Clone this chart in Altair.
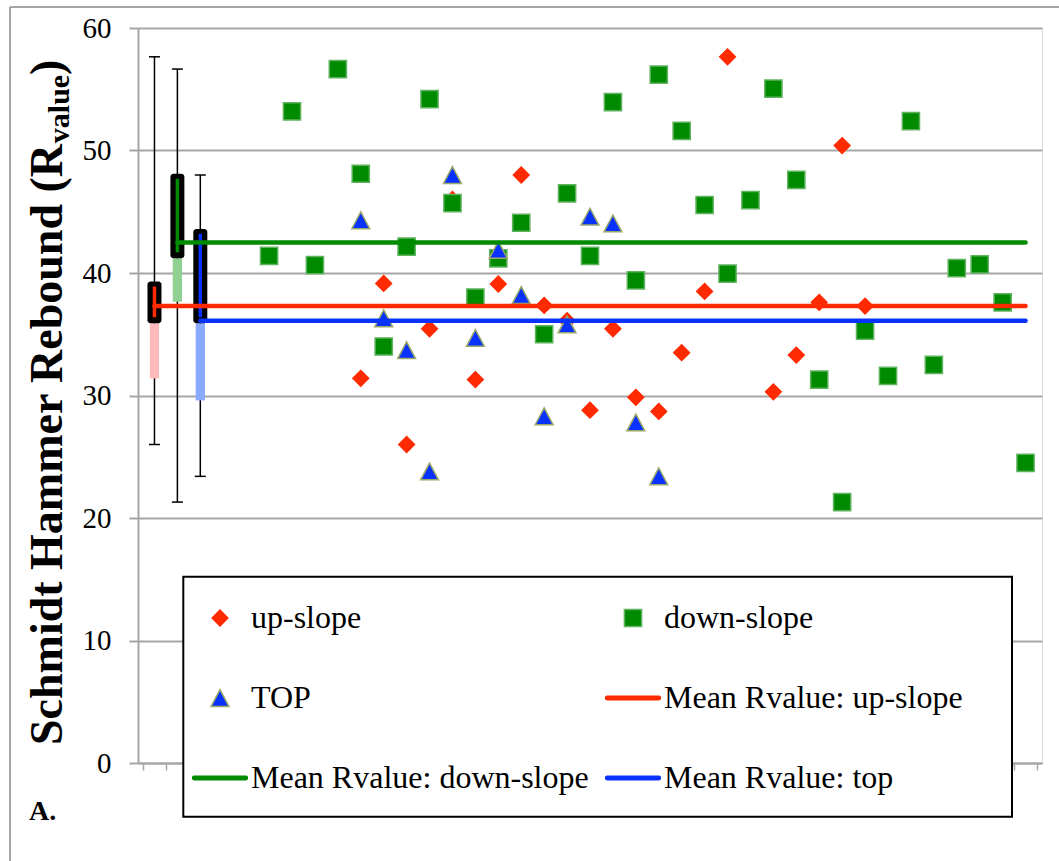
import altair as alt
import pandas as pd

# ---------------- data ----------------
series_names = ["up-slope", "down-slope", "TOP",
                "Mean Rvalue: up-slope", "Mean Rvalue: down-slope", "Mean Rvalue: top"]

# category index (0-based, 39 categories) and R-values of the scatter series
up_cat = [9, 10, 11, 12, 13, 14, 15, 16, 17, 18, 19, 20, 21, 22, 23, 24, 25, 27, 28, 29, 30, 31]
up_val = [31.4, 39.15, 26.0, 35.45, 46.0, 31.3, 39.1, 48.0, 37.35, 36.1, 28.8, 35.45,
          29.85, 28.7, 33.5, 38.5, 57.65, 30.3, 33.3, 37.6, 50.4, 37.3]

down_cat = list(range(5, 39))
down_val = [41.4, 53.2, 40.65, 56.65, 48.1, 34.0, 42.15, 54.2, 45.7, 38.0, 41.2, 44.1,
            35.0, 46.5, 41.4, 53.95, 39.4, 56.2, 51.6, 45.55, 39.95, 45.95, 55.05, 47.6,
            31.3, 21.3, 35.3, 31.6, 52.4, 32.5, 40.4, 40.7, 37.6, 24.5]

top_cat = list(range(9, 23))
top_val = [44.3, 36.3, 33.7, 23.8, 48.0, 34.7, 41.9, 38.2, 28.3, 35.8, 44.6, 44.05, 27.8, 23.4]

# summary boxes at the left (one per series)
box_cat = [0, 1, 2]
box_min = [26.0, 21.3, 23.4]
box_max = [57.65, 56.65, 48.0]
box_low = [31.4, 37.65, 29.6]
box_mid = [35.9, 41.2, 35.9]
box_high = [39.3, 48.1, 43.6]
mean_val = [37.3, 42.5, 36.1]
mean_end_cat = 38

n_cats = 39
y_ticks = [0, 10, 20, 30, 40, 50, 60]

# ---------------- styles ----------------
RED, GREEN, BLUE = "#ff2a00", "#008a00", "#0a32ff"
PALE = ["#ffbbbb", "#90d090", "#88aaff"]
MAIN = [RED, GREEN, BLUE]
GRID = "#a6a6a6"
SERIF = "Liberation Serif"

fill_colors = [RED, GREEN, BLUE, RED, GREEN, BLUE]
stroke_colors = [RED, "#5fb35f", "#9aa86a", RED, GREEN, BLUE]
line_path = ("M-0.92,-0.06L0.92,-0.06A0.06,0.06,0,0,1,0.92,0.06"
             "L-0.92,0.06A0.06,0.06,0,0,1,-0.92,-0.06Z")
shape_paths = [
    "M-0.28,0L0,-0.28L0.28,0L0,0.28Z",
    "M-0.307,-0.307L0.307,-0.307L0.307,0.307L-0.307,0.307Z",
    "M0,-0.3L0.318,0.3L-0.318,0.3Z",
    line_path, line_path, line_path,
]

# ---------------- tables ----------------
rows = []
for name, cats, vals in [(series_names[0], up_cat, up_val),
                         (series_names[1], down_cat, down_val),
                         (series_names[2], top_cat, top_val)]:
    for c, v in zip(cats, vals):
        rows.append({"xc": c + 0.5, "val": v, "series": name})
points_df = pd.DataFrame(rows)

box_df = pd.DataFrame({
    "xc": [c + 0.5 for c in box_cat],
    "vmin": box_min, "vmax": box_max,
    "low": box_low, "mid": box_mid, "high": box_high,
})
caps_df = pd.DataFrame({
    "xc": [c + 0.5 for c in box_cat] * 2,
    "val": box_min + box_max,
})
mean_df = pd.DataFrame({
    "series": series_names[3:],
    "xc": [c + 0.5 for c in box_cat],
    "xe": [mean_end_cat + 0.5] * 3,
    "val": mean_val,
})

# ---------------- scales / axes ----------------
x_scale = alt.Scale(domain=[0, n_cats], nice=False, zero=False)
y_scale = alt.Scale(domain=[0, 60], nice=False, zero=True)
x_axis = alt.Axis(values=list(range(n_cats + 1)), labels=False, title=None, grid=False,
                  tickSize=7, tickColor=GRID, tickWidth=1.5, domainColor=GRID,
                  domainWidth=2, zindex=0)
y_axis = alt.Axis(values=y_ticks, title=None, grid=True, gridColor=GRID, gridWidth=2,
                  tickSize=9, tickColor=GRID, tickWidth=2, domainColor=GRID, domainWidth=2,
                  labelFont=SERIF, labelFontSize=29, labelColor="black", labelPadding=18,
                  zindex=0)


def X(field):
    return alt.X(field, type="quantitative", scale=x_scale, axis=x_axis)


def Y(field):
    return alt.Y(field, type="quantitative", scale=y_scale, axis=y_axis)


legend = alt.Legend(orient="none", legendX=53, legendY=561, columns=2, direction="horizontal",
                    columnPadding=13, rowPadding=35, symbolSize=3136, symbolStrokeWidth=1.5,
                    symbolFillColor="#000000", symbolStrokeColor="#000000", symbolOpacity=1,
                    labelFont=SERIF, labelFontSize=32, labelColor="black", labelOffset=2,
                    labelLimit=1000, title=None, padding=0)

fill_scale = alt.Scale(domain=series_names, range=fill_colors)
stroke_scale = alt.Scale(domain=series_names, range=stroke_colors)
shape_scale = alt.Scale(domain=series_names, range=shape_paths)

one = alt.Data(values=[{}])

# ---------------- layers ----------------
border_left = alt.Chart(one).mark_rule(color=GRID, strokeWidth=2).encode(
    x=alt.value(-128), y=alt.value(-21), y2=alt.value(833))
border_top = alt.Chart(one).mark_rule(color=GRID, strokeWidth=2).encode(
    x=alt.value(-128), x2=alt.value(921), y=alt.value(-21))

whiskers = alt.Chart(box_df).mark_rule(color="black", strokeWidth=1.5).encode(
    x=X("xc"), y=Y("vmin"), y2="vmax")
caps = alt.Chart(caps_df).mark_rule(color="black", strokeWidth=1.5,
                                    xOffset=-5.5, x2Offset=5.5).encode(
    x=X("xc"), x2="xc", y=Y("val"))

box_layers = []
for k in range(3):
    sub = box_df.iloc[[k]]
    box_layers.append(alt.Chart(sub).mark_rule(color=PALE[k], strokeWidth=9.3).encode(
        x=X("xc"), y=Y("low"), y2="mid"))
for k in range(3):
    sub = box_df.iloc[[k]]
    box_layers.append(alt.Chart(sub).mark_bar(color="black", width=14, cornerRadius=3).encode(
        x=X("xc"), y=Y("mid"), y2="high"))
    box_layers.append(alt.Chart(sub).mark_rule(color=MAIN[k], strokeWidth=3.5,
                                               yOffset=5, y2Offset=-6).encode(
        x=X("xc"), y=Y("high"), y2="mid"))

points = alt.Chart(points_df).mark_point(filled=True, size=3136, strokeWidth=1.5,
                                         opacity=1).encode(
    x=X("xc"), y=Y("val"),
    fill=alt.Fill("series:N", scale=fill_scale, legend=legend),
    stroke=alt.Stroke("series:N", scale=stroke_scale, legend=legend),
    shape=alt.Shape("series:N", scale=shape_scale, legend=legend),
)

means = alt.Chart(mean_df).mark_rule(strokeWidth=4.5, strokeCap="round").encode(
    x=X("xc"), x2="xe", y=Y("val"),
    stroke=alt.Stroke("series:N", scale=stroke_scale, legend=None),
)

legend_box = alt.Chart(one).mark_rect(fill="white", stroke="black", strokeWidth=2).encode(
    x=alt.value(45.3), x2=alt.value(874), y=alt.value(548.7), y2=alt.value(788.7))

title1 = alt.Chart(one).mark_text(font=SERIF, fontWeight="bold", fontSize=46, angle=270,
                                  align="left", baseline="alphabetic", color="black").encode(
    x=alt.value(-76), y=alt.value(717), text=alt.value("Schmidt Hammer Rebound (R"))
title2 = alt.Chart(one).mark_text(font=SERIF, fontWeight="bold", fontSize=30, angle=270,
                                  align="left", baseline="alphabetic", color="black").encode(
    x=alt.value(-69), y=alt.value(115.2), text=alt.value("value"))
title3 = alt.Chart(one).mark_text(font=SERIF, fontWeight="bold", fontSize=46, angle=270,
                                  align="left", baseline="alphabetic", color="black").encode(
    x=alt.value(-76), y=alt.value(46.9), text=alt.value(")"))
label_a = alt.Chart(one).mark_text(font=SERIF, fontWeight="bold", fontSize=28,
                                   align="left", baseline="alphabetic", color="black").encode(
    x=alt.value(-109), y=alt.value(792), text=alt.value("A."))

chart = alt.layer(
    whiskers, caps, *box_layers, points, means,
    legend_box, border_left, border_top, title1, title2, title3, label_a,
).properties(
    width=904, height=735,
    autosize=alt.AutoSizeParams(type="none"),
    padding={"left": 138, "top": 28, "right": 17, "bottom": 98},
).configure_view(stroke=None).configure(background="white")

chart.save("out.html", embed_options={"renderer": "svg", "actions": False})
